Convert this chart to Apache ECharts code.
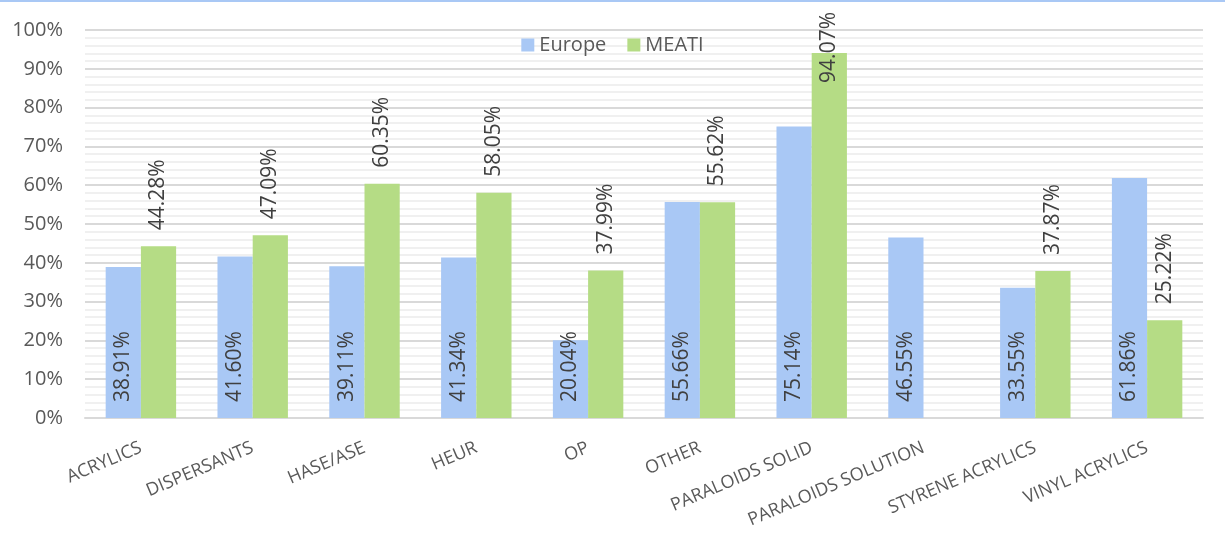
<!DOCTYPE html>
<html><head><meta charset="utf-8">
<script src="https://cdn.jsdelivr.net/npm/echarts@6/dist/echarts.min.js"></script>
<style>html,body{margin:0;padding:0;background:#fff}#c{width:1225px;height:550px;box-sizing:border-box;border-top:2px solid #a9c8f5}</style>
</head><body><div id="c"></div>
<script>
const categories = ['ACRYLICS','DISPERSANTS','HASE/ASE','HEUR','OP','OTHER','PARALOIDS SOLID','PARALOIDS SOLUTION','STYRENE ACRYLICS','VINYL ACRYLICS'];
const europe = [38.91, 41.60, 39.11, 41.34, 20.04, 55.66, 75.14, 46.55, 33.55, 61.86];
const meati = [44.28, 47.09, 60.35, 58.05, 37.99, 55.62, 94.07, null, 37.87, 25.22];
const FONT = 'Open Sans';
const LABEL_DIST = 16;
const chart = echarts.init(document.getElementById('c'));
const fmt = p => p.value == null ? '' : p.value.toFixed(2) + '%';
chart.setOption({
  animation: false,
  textStyle: {fontFamily: FONT},
  legend: {
    top: 28, left: 'center', itemGap: 21, itemWidth: 13, itemHeight: 13,
    icon: 'rect',
    textStyle: {fontSize: 20, color: '#595959', fontFamily: FONT},
    data: ['Europe', 'MEATI']
  },
  grid: {left: 85, right: 22, top: 28, bottom: 132, containLabel: false},
  xAxis: {
    type: 'category', data: categories,
    axisLine: {lineStyle: {color: '#d9d9d9', width: 2}},
    axisTick: {show: false},
    axisLabel: {rotate: 23, fontSize: 18, color: '#595959', fontFamily: FONT, margin: 29, interval: 0}
  },
  yAxis: {
    type: 'value', min: 0, max: 100, interval: 10,
    axisLabel: {formatter: '{value}%', fontSize: 20, color: '#595959', fontFamily: FONT, margin: 22},
    axisLine: {show: false}, axisTick: {show: false},
    splitLine: {lineStyle: {color: '#d9d9d9', width: 2}},
    minorTick: {show: false, splitNumber: 5},
    minorSplitLine: {show: true, lineStyle: {color: '#f0f0f0', width: 2}}
  },
  series: [
    {
      name: 'Europe', type: 'bar', data: europe, barGap: '0%', barCategoryGap: '37%',
      itemStyle: {color: '#a9c8f5'},
      label: {show: true, position: 'insideBottom', rotate: 90, align: 'left', verticalAlign: 'middle',
        distance: LABEL_DIST, fontSize: 21, color: '#404040', fontFamily: FONT, formatter: fmt}
    },
    {
      name: 'MEATI', type: 'bar', data: meati,
      itemStyle: {color: '#b5dc85'},
      label: {show: true, position: 'top', rotate: 90, align: 'left', verticalAlign: 'middle',
        distance: LABEL_DIST, fontSize: 21, color: '#404040', fontFamily: FONT, formatter: fmt},
      labelLayout: function (params) {
        const r = params.labelRect;
        const minTop = 10;
        if (r && r.y < minTop) {
          return {y: params.rect.y - LABEL_DIST + (minTop - r.y)};
        }
        return {};
      }
    }
  ]
});
</script></body></html>
